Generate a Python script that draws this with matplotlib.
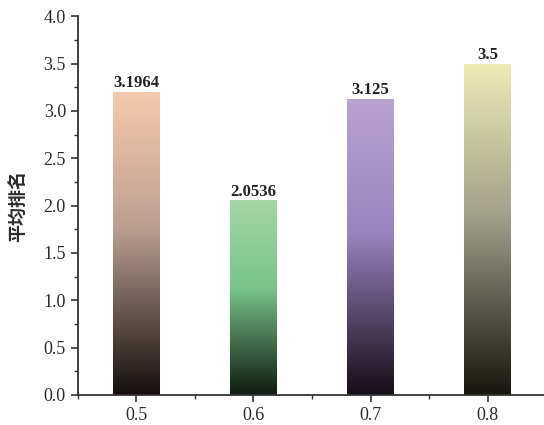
import numpy as np
import matplotlib.pyplot as plt
from matplotlib.colors import LinearSegmentedColormap
from matplotlib.ticker import MultipleLocator

plt.rcParams['font.family'] = ['Liberation Serif', 'Noto Sans CJK SC']

categories = ['0.5', '0.6', '0.7', '0.8']
avg_rank = [3.1964, 2.0536, 3.125, 3.5]
value_labels = ['3.1964', '2.0536', '3.125', '3.5']
# top / middle / bottom colour of each bar's gradient
top_colors = ['#f5c9ae', '#a3d7a5', '#b9a3d1', '#eeebb5']
mid_colors = ['#bc9f90', '#78c48a', '#9884c0', '#a3a28a']
bottom_colors = ['#140e0d', '#0f1a10', '#150d16', '#16160e']

fig = plt.figure(figsize=(5.44, 4.25), dpi=100)
ax = fig.add_axes([0.143, 0.0706, 0.857, 0.8914])

x = np.arange(len(categories))
width = 0.4
bars = ax.bar(x, avg_rank, width=width, color='none', edgecolor='none', zorder=2)

grad = np.linspace(0, 1, 256).reshape(-1, 1)
for i, b in enumerate(bars):
    cmap = LinearSegmentedColormap.from_list(
        'bar%d' % i, [(0, bottom_colors[i]), (0.55, mid_colors[i]), (1, top_colors[i])])
    x0, y0 = b.get_x(), b.get_y()
    im = ax.imshow(grad, cmap=cmap, origin='lower', aspect='auto',
                   extent=[x0, x0 + b.get_width(), y0, y0 + b.get_height()], zorder=2)
    im.set_clip_path(b)
    ax.text(b.get_x() + b.get_width() / 2, b.get_height() + 0.01, value_labels[i],
            ha='center', va='bottom', fontsize=12, fontweight='bold', color='#222222')

ax.set_xlim(-0.5, 3.48)
ax.set_ylim(0, 4.0)
ax.set_xticks(x)
ax.set_xticklabels(categories)
ax.xaxis.set_minor_locator(MultipleLocator(0.5))
ax.yaxis.set_major_locator(MultipleLocator(0.5))
ax.yaxis.set_minor_locator(MultipleLocator(0.25))
ax.yaxis.set_major_formatter(plt.FormatStrFormatter('%.1f'))

for s in ['top', 'right']:
    ax.spines[s].set_visible(False)
for s in ['left', 'bottom']:
    ax.spines[s].set_color('#333333')
    ax.spines[s].set_linewidth(1.3)

ax.tick_params(which='major', direction='out', length=5, width=1.2, colors='#333333',
               labelsize=13, labelcolor='#2a2a2a')
ax.tick_params(which='minor', direction='out', length=3, width=1.0, colors='#333333')
ax.set_ylabel('平均排名', family=['Noto Sans CJK SC'], fontsize=13, fontweight='bold',
              color='#2a2a2a')
ax.yaxis.set_label_coords(-0.109, 0.5)

fig.savefig('out.png', dpi=100)
